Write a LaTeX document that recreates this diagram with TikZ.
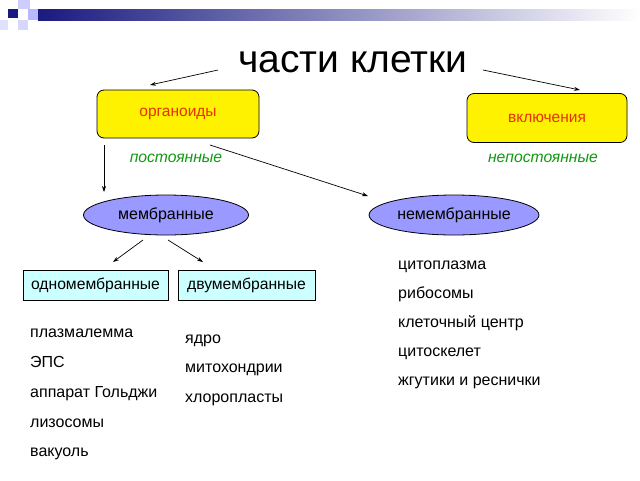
\documentclass[tikz,border=0pt]{standalone}
\usepackage{fontspec}
\setmainfont{Liberation Sans}
\usetikzlibrary{shapes.geometric,arrows.meta}
\definecolor{navy}{HTML}{1A1A80}
\definecolor{lav}{HTML}{9999FF}
\definecolor{lcyan}{HTML}{CCFFFF}
\definecolor{dgreen}{HTML}{119911}
\definecolor{ored}{HTML}{E83000}
\begin{document}
\begin{tikzpicture}[x=1pt,y=-1pt,
 arr/.style={-{Stealth[length=6pt,width=4pt]},line width=0.7pt},
 ybox/.style={draw,line width=0.8pt,rounded corners=7pt,fill=yellow,minimum width=162pt,minimum height=48pt,text=ored,font=\fontsize{15.5}{17}\selectfont},
 ell/.style={ellipse,draw,line width=0.8pt,fill=lav,minimum width=165pt,minimum height=40pt,font=\fontsize{16}{18}\selectfont},
 cbox/.style={draw,line width=0.8pt,fill=lcyan,minimum height=30pt,inner xsep=2pt,font=\fontsize{15.7}{17}\selectfont},
 cat/.style={text=dgreen,font=\itshape\fontsize{15.7}{17}\selectfont},
 item/.style={anchor=west,font=\fontsize{16}{18}\selectfont,inner sep=0pt,text height=11.5pt,text depth=3.5pt}]
\useasboundingbox (0,0) rectangle (640,480);
\fill[white] (0,0) rectangle (640,480);
% header decoration
\shade[left color=navy,right color=white] (38,9) rectangle (640,20);
\fill[navy] (8,9) rectangle (18,18);
\fill[lav!50] (18,0) rectangle (30,9);
\fill[lav!70] (28,9) rectangle (38,20);
\fill[lav!40] (18,20) rectangle (28,30);
\fill[lav!30] (0,20) rectangle (8,30);
\node[font=\fontsize{39}{41}\selectfont] (t) at (353,62) {части клетки};
\node[ybox] (org) at (178,114) {органоиды};
\node[ybox,minimum width=160pt,minimum height=49pt] (vk) at (547,118) {включения};
\node[cat] (p) at (176,158) {постоянные};
\node[cat] (np) at (543,158) {непостоянные};
\node[ell] (m) at (166,215) {мембранные};
\node[ell] (nm) at (454,215) {немембранные};
\node[cbox,minimum width=145pt] (o) at (95.5,285) {одномембранные};
\node[cbox,minimum width=137pt] (d) at (246.5,285) {двумембранные};
\coordinate (a1) at (218,70); \coordinate (a2) at (150,85);
\coordinate (b1) at (483,70); \coordinate (b2) at (580,90);
\draw[arr] (a1) -- (a2);
\draw[arr] (b1) -- (b2);
\coordinate (c1) at (104,145); \coordinate (c2) at (104,192);
\draw[arr] (c1) -- (c2);
\coordinate (e1) at (210,145); \coordinate (e2) at (368,196);
\draw[arr] (e1) -- (e2);
\coordinate (f1) at (143,240); \coordinate (f2) at (113,262);
\coordinate (g1) at (168,240); \coordinate (g2) at (203,262);
\draw[arr] (f1) -- (f2);
\draw[arr] (g1) -- (g2);
\node[item] (l1) at (30,333) {плазмалемма};
\node[item] (l2) at (30,363) {ЭПС};
\node[item] (l3) at (30,393) {аппарат Гольджи};
\node[item] (l4) at (30,423) {лизосомы};
\node[item] (l5) at (30,452) {вакуоль};
\node[item] (m1) at (185,339) {ядро};
\node[item] (m2) at (185,368) {митохондрии};
\node[item] (m3) at (185,398) {хлоропласты};
\node[item] (r1) at (398,265) {цитоплазма};
\node[item] (r2) at (398,294) {рибосомы};
\node[item] (r3) at (398,323) {клеточный центр};
\node[item] (r4) at (398,352) {цитоскелет};
\node[item] (r5) at (398,381) {жгутики и реснички};
\end{tikzpicture}
\end{document}
